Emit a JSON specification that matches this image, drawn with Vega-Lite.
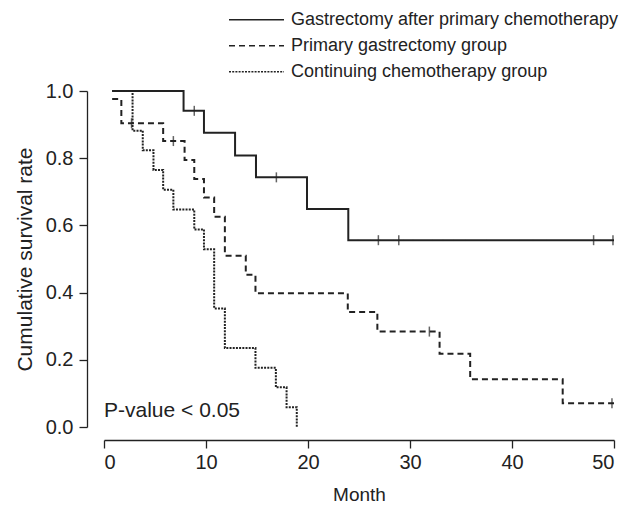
{
  "$schema": "https://vega.github.io/schema/vega-lite/v6.json",
  "autosize": {"type": "none"},
  "padding": {"left": 104, "top": 91, "right": 13, "bottom": 80},
  "width": 510,
  "height": 336,
  "background": "white",
  "config": {
    "view": {"stroke": null},
    "font": "Liberation Sans"
  },
  "datasets": {
    "curves": [
      {"group": "Gastrectomy after primary chemotherapy", "month": 0.8, "surv": 1.0},
      {"group": "Gastrectomy after primary chemotherapy", "month": 7.8, "surv": 0.941},
      {"group": "Gastrectomy after primary chemotherapy", "month": 9.8, "surv": 0.876},
      {"group": "Gastrectomy after primary chemotherapy", "month": 12.85, "surv": 0.808},
      {"group": "Gastrectomy after primary chemotherapy", "month": 14.9, "surv": 0.743},
      {"group": "Gastrectomy after primary chemotherapy", "month": 19.9, "surv": 0.649},
      {"group": "Gastrectomy after primary chemotherapy", "month": 23.95, "surv": 0.556},
      {"group": "Gastrectomy after primary chemotherapy", "month": 50, "surv": 0.556},
      {"group": "Primary gastrectomy group", "month": 0.8, "surv": 0.976},
      {"group": "Primary gastrectomy group", "month": 1.7, "surv": 0.904},
      {"group": "Primary gastrectomy group", "month": 5.8, "surv": 0.851},
      {"group": "Primary gastrectomy group", "month": 7.9, "surv": 0.795},
      {"group": "Primary gastrectomy group", "month": 8.85, "surv": 0.738},
      {"group": "Primary gastrectomy group", "month": 9.8, "surv": 0.683},
      {"group": "Primary gastrectomy group", "month": 10.8, "surv": 0.626},
      {"group": "Primary gastrectomy group", "month": 11.85, "surv": 0.51},
      {"group": "Primary gastrectomy group", "month": 13.9, "surv": 0.453},
      {"group": "Primary gastrectomy group", "month": 14.85, "surv": 0.398},
      {"group": "Primary gastrectomy group", "month": 23.9, "surv": 0.342},
      {"group": "Primary gastrectomy group", "month": 26.8, "surv": 0.284},
      {"group": "Primary gastrectomy group", "month": 32.9, "surv": 0.218},
      {"group": "Primary gastrectomy group", "month": 35.9, "surv": 0.142},
      {"group": "Primary gastrectomy group", "month": 44.97, "surv": 0.071},
      {"group": "Primary gastrectomy group", "month": 50, "surv": 0.071},
      {"group": "Continuing chemotherapy group", "month": 0.8, "surv": 1.0},
      {"group": "Continuing chemotherapy group", "month": 2.8, "surv": 0.882},
      {"group": "Continuing chemotherapy group", "month": 3.8, "surv": 0.824},
      {"group": "Continuing chemotherapy group", "month": 4.85, "surv": 0.765},
      {"group": "Continuing chemotherapy group", "month": 5.8, "surv": 0.706},
      {"group": "Continuing chemotherapy group", "month": 6.8, "surv": 0.647},
      {"group": "Continuing chemotherapy group", "month": 8.85, "surv": 0.588},
      {"group": "Continuing chemotherapy group", "month": 9.8, "surv": 0.529},
      {"group": "Continuing chemotherapy group", "month": 10.8, "surv": 0.353},
      {"group": "Continuing chemotherapy group", "month": 11.85, "surv": 0.235},
      {"group": "Continuing chemotherapy group", "month": 14.85, "surv": 0.176},
      {"group": "Continuing chemotherapy group", "month": 16.85, "surv": 0.118},
      {"group": "Continuing chemotherapy group", "month": 17.9, "surv": 0.059},
      {"group": "Continuing chemotherapy group", "month": 18.9, "surv": 0.0}
    ],
    "censors": [
      {"group": "Gastrectomy after primary chemotherapy", "month": 8.85, "surv": 0.941},
      {"group": "Gastrectomy after primary chemotherapy", "month": 16.9, "surv": 0.743},
      {"group": "Gastrectomy after primary chemotherapy", "month": 26.9, "surv": 0.556},
      {"group": "Gastrectomy after primary chemotherapy", "month": 28.9, "surv": 0.556},
      {"group": "Gastrectomy after primary chemotherapy", "month": 48, "surv": 0.556},
      {"group": "Gastrectomy after primary chemotherapy", "month": 49.9, "surv": 0.556},
      {"group": "Primary gastrectomy group", "month": 2.7, "surv": 0.904},
      {"group": "Primary gastrectomy group", "month": 6.8, "surv": 0.851},
      {"group": "Primary gastrectomy group", "month": 31.9, "surv": 0.284},
      {"group": "Primary gastrectomy group", "month": 49.8, "surv": 0.071}
    ],
    "notes": [
      {"label": "P-value < 0.05", "month": 0, "surv": 0.047}
    ]
  },
  "layer": [
    {
      "data": {"name": "curves"},
      "mark": {"type": "line", "interpolate": "step-after", "color": "#222", "strokeWidth": 2},
      "encoding": {
        "x": {
          "field": "month", "type": "quantitative",
          "scale": {"domain": [0, 50], "nice": false, "zero": false},
          "axis": {"values": [0, 10, 20, 30, 40, 50], "offset": 13, "title": "Month", "labelPadding": 4, "titlePadding": 13, "grid": false, "tickSize": 8, "domainColor": "#222", "tickColor": "#222", "labelColor": "#222", "titleColor": "#222", "labelFontSize": 20, "titleFontSize": 19, "titleFontWeight": "normal", "domainWidth": 1.3, "tickWidth": 1.3, "labelFont": "Liberation Sans", "titleFont": "Liberation Sans"}
        },
        "y": {
          "field": "surv", "type": "quantitative",
          "scale": {"domain": [0, 1], "nice": false},
          "axis": {"values": [0, 0.2, 0.4, 0.6, 0.8, 1.0], "format": ".1f", "offset": 17, "title": "Cumulative survival rate", "labelPadding": 6, "titlePadding": 10, "grid": false, "tickSize": 8, "domainColor": "#222", "tickColor": "#222", "labelColor": "#222", "titleColor": "#222", "labelFontSize": 20, "titleFontSize": 21, "titleFontWeight": "normal", "domainWidth": 1.3, "tickWidth": 1.3, "labelFont": "Liberation Sans", "titleFont": "Liberation Sans"}
        },
        "strokeDash": {
          "field": "group", "type": "nominal",
          "scale": {
            "domain": ["Gastrectomy after primary chemotherapy", "Primary gastrectomy group", "Continuing chemotherapy group"],
            "range": [[1, 0], [6, 4], [2, 1.2]]
          },
          "legend": {
            "title": null,
            "orient": "none",
            "legendX": 124,
            "legendY": -84,
            "symbolType": "stroke",
            "symbolSize": 3025,
            "symbolStrokeWidth": 1.5,
            "symbolStrokeColor": "#222",
            "clipHeight": 25.5,
            "rowPadding": 0,
            "labelFontSize": 18,
            "labelFont": "Liberation Sans",
            "labelColor": "#222",
            "labelOffset": 6,
            "labelLimit": 400
          }
        },
        "detail": {"field": "group"}
      }
    },
    {
      "data": {"name": "censors"},
      "mark": {"type": "tick", "orient": "vertical", "size": 10, "thickness": 1.5, "color": "#222"},
      "encoding": {
        "x": {"field": "month", "type": "quantitative"},
        "y": {"field": "surv", "type": "quantitative"}
      }
    },
    {
      "data": {"name": "notes"},
      "mark": {"type": "text", "align": "left", "baseline": "middle", "fontSize": 21, "color": "#222", "font": "Liberation Sans"},
      "encoding": {
        "x": {"field": "month", "type": "quantitative"},
        "y": {"field": "surv", "type": "quantitative"},
        "text": {"field": "label"}
      }
    }
  ]
}
